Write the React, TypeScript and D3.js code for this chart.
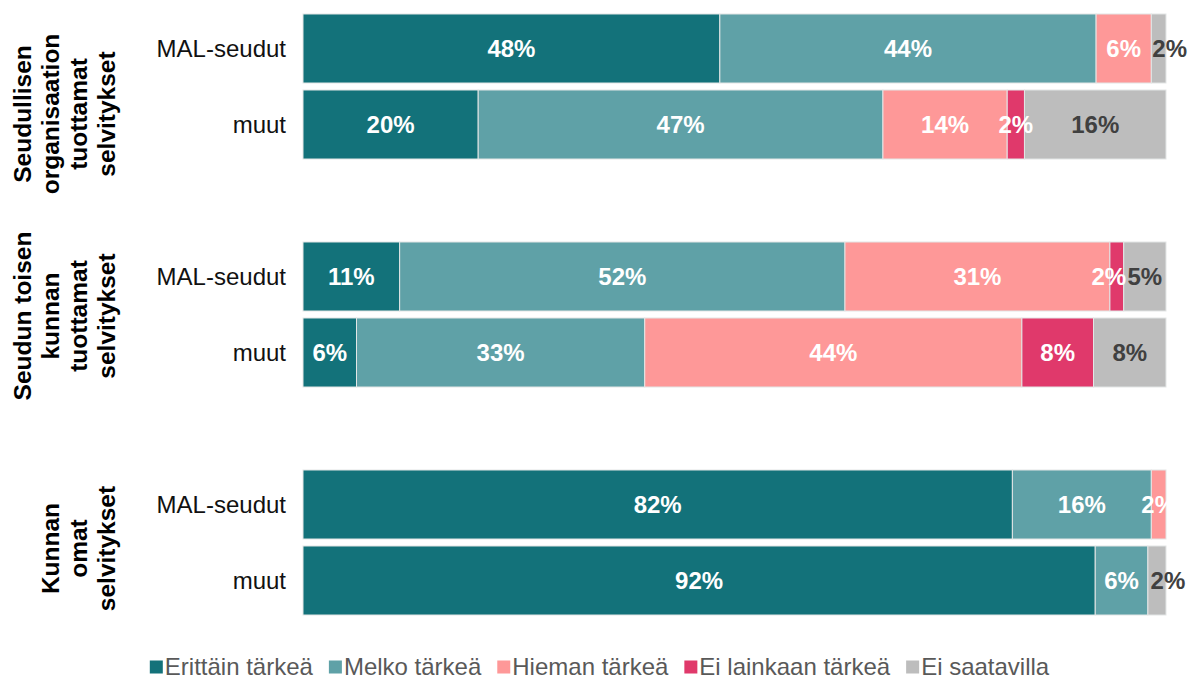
import React, { useEffect, useRef } from "react";
import * as d3 from "d3";

const groupLabels: string[][] = [
  ["Seudullisen", "organisaation", "tuottamat", "selvitykset"],
  ["Seudun toisen", "kunnan", "tuottamat", "selvitykset"],
  ["Kunnan", "omat", "selvitykset"],
];
const categories = ["MAL-seudut", "muut", "MAL-seudut", "muut", "MAL-seudut", "muut"];
const rowGroup = [0, 0, 1, 1, 2, 2];
const seriesNames = ["Erittäin tärkeä", "Melko tärkeä", "Hieman tärkeä", "Ei lainkaan tärkeä", "Ei saatavilla"];
const erittain = [48.3, 20.3, 11.2, 6.2, 82.2, 91.8];
const melko = [43.6, 46.9, 51.6, 33.4, 16.1, 6.1];
const hieman = [6.4, 14.4, 30.7, 43.7, 1.7, 0];
const eiLainkaan = [0, 2.0, 1.6, 8.3, 0, 0];
const eiSaatavilla = [1.7, 16.4, 4.9, 8.4, 0, 2.1];

const colors = ["#13727a", "#5fa1a7", "#fe9898", "#e0396b", "#bdbdbd"];
const labelColors = ["#ffffff", "#ffffff", "#ffffff", "#ffffff", "#404040"];
const groupShift = [27.5, 1.5, 6];
// label nudges (layout only) for crowded small segments: "row-series" -> px
const labelNudge: Record<string, number> = { "0-4": 11, "5-4": 11, "2-3": -8 };

export default function App() {
  const ref = useRef<SVGSVGElement>(null);
  useEffect(() => {
    const svg = d3.select(ref.current);
    svg.selectAll("*").remove();
    const W = 1189, H = 677;
    const font = "'Liberation Sans', Arial, sans-serif";
    const slotOf = (i: number) => rowGroup[i] * 3 + (i % 2);
    const y = d3.scaleBand<number>().domain(d3.range(8)).range([10.5, 618.5]).paddingInner(0.092).paddingOuter(0.046);
    const x = d3.scaleLinear().domain([0, 100]).range([303, 1166]);
    const allSeries = [erittain, melko, hieman, eiLainkaan, eiSaatavilla];

    const rows = categories.map((c, i) => {
      let acc = 0;
      const segs = allSeries.map((s, k) => {
        const seg = { i, k, x0: acc, x1: acc + s[i], v: s[i] };
        acc += s[i];
        return seg;
      });
      return { i, c, segs };
    });

    const g = svg.append("g");
    const rowG = g.selectAll("g.row").data(rows).enter().append("g")
      .attr("transform", (d) => `translate(0,${y(slotOf(d.i))})`);
    rowG.selectAll("rect").data((d) => d.segs.filter((s) => s.v > 0)).enter().append("rect")
      .attr("x", (s) => x(s.x0))
      .attr("width", (s) => x(s.x1) - x(s.x0))
      .attr("y", 0)
      .attr("height", y.bandwidth())
      .attr("fill", (s) => colors[s.k])
      .attr("stroke", "#e3e6e6")
      .attr("stroke-width", 1);
    rowG.selectAll("text").data((d) => d.segs.filter((s) => s.v > 0)).enter().append("text")
      .attr("x", (s) => (x(s.x0) + x(s.x1)) / 2 + (labelNudge[`${s.i}-${s.k}`] || 0))
      .attr("y", y.bandwidth() / 2)
      .attr("dy", "0.35em")
      .attr("text-anchor", "middle")
      .attr("font-family", font)
      .attr("font-weight", "bold")
      .attr("font-size", 24)
      .attr("fill", (s) => labelColors[s.k])
      .text((s) => `${Math.round(s.v)}%`);

    g.selectAll("text.cat").data(rows).enter().append("text")
      .attr("class", "cat")
      .attr("x", 286)
      .attr("y", (d) => (y(slotOf(d.i)) as number) + y.bandwidth() / 2)
      .attr("dy", "0.35em")
      .attr("text-anchor", "end")
      .attr("font-family", font)
      .attr("font-size", 24)
      .attr("fill", "#111")
      .text((d) => d.c);

    groupLabels.forEach((lines, gi) => {
      const top = y(gi * 3) as number;
      const bottom = (y(gi * 3 + 1) as number) + y.bandwidth();
      const cy = (top + bottom) / 2 + groupShift[gi];
      const n = lines.length;
      lines.forEach((line, li) => {
        const lx = 106 - (n - 1 - li) * 28;
        svg.append("text")
          .attr("transform", `translate(${lx},${cy}) rotate(-90)`)
          .attr("dy", "0.35em")
          .attr("text-anchor", "middle")
          .attr("font-family", font)
          .attr("font-weight", "bold")
          .attr("font-size", 24.5)
          .attr("fill", "#000")
          .text(line);
      });
    });

    const lg = svg.append("g");
    const items = seriesNames.map((name, k) => {
      const ig = lg.append("g");
      ig.append("rect").attr("x", 0).attr("y", -6.5).attr("width", 13).attr("height", 13).attr("fill", colors[k]);
      const t = ig.append("text").attr("x", 15).attr("y", 0).attr("dy", "0.35em")
        .attr("font-family", font).attr("font-size", 24).attr("fill", "#595959").text(name);
      const w = 15 + (t.node() as SVGTextElement).getComputedTextLength();
      return { ig, w };
    });
    const gap = 16;
    const total = d3.sum(items, (d) => d.w) + gap * (items.length - 1);
    let cx = 599.5 - total / 2;
    items.forEach((it) => {
      it.ig.attr("transform", `translate(${cx},667)`);
      cx += it.w + gap;
    });
    svg.attr("width", W).attr("height", H);
  }, []);
  return (
    <div style={{ position: "absolute", left: 0, top: 0, width: 1189, height: 677, background: "#fff" }}>
      <svg ref={ref} width={1189} height={677} style={{ display: "block" }} />
    </div>
  );
}
